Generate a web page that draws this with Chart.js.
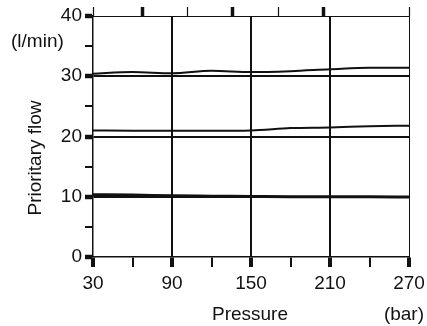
<!DOCTYPE html>
<html>
<head>
<meta charset="utf-8">
<script src="https://cdn.jsdelivr.net/npm/chart.js@4/dist/chart.umd.min.js"></script>
<style>
    html, body { margin: 0; padding: 0; background: #fff; }
    #wrap { width: 427px; height: 326px; }
</style>
</head>
<body>
<div id="wrap"><canvas id="flowChart" width="427" height="326"></canvas></div>
<script>
// Pressure (bar) sample points shared by all curves
const pressure = [30, 60, 90, 120, 150, 180, 210, 240, 270];

// Prioritary flow (l/min)
const flow30 = [30.4, 30.7, 30.5, 30.9, 30.7, 30.85, 31.15, 31.4, 31.4];
const flow20 = [21.0, 20.95, 20.95, 20.95, 21.0, 21.4, 21.5, 21.7, 21.8];
const flow10 = [10.35, 10.3, 10.15, 10.1, 10.05, 10.0, 10.0, 10.0, 9.95];

// Tick labels
const xLabels = [30, 90, 150, 210, 270];
const yLabels = [0, 10, 20, 30, 40];
const yGridLines = [10, 20, 30];
const xGridLines = [90, 150, 210];

const FONT = '"Liberation Sans", Arial, sans-serif';
const INK = '#111';

function toPoints(ys) {
    return pressure.map((p, i) => ({ x: p, y: ys[i] }));
}

function curve(ys, width) {
    return {
        data: toPoints(ys),
        borderColor: INK,
        borderWidth: width,
        pointRadius: 0,
        fill: false,
        cubicInterpolationMode: 'monotone',
        xAxisID: 'x',
        yAxisID: 'y'
    };
}

// Extra texts: units and axis titles
const textPlugin = {
    id: 'texts',
    afterDraw(chart) {
        const ctx = chart.ctx;
        ctx.save();
        ctx.fillStyle = INK;
        ctx.font = '19px ' + FONT;
        ctx.textBaseline = 'middle';
        ctx.textAlign = 'left';
        ctx.fillText('(l/min)', 11, 42);
        ctx.textAlign = 'center';
        ctx.fillText('Pressure', 250, 315);
        ctx.textAlign = 'right';
        ctx.fillText('(bar)', 424, 315);
        ctx.translate(36, 158);
        ctx.rotate(-Math.PI / 2);
        ctx.textAlign = 'center';
        ctx.fillText('Prioritary flow', 0, 0);
        ctx.restore();
    }
};

// keep the plot box where the picture has it
function fixHeight(h) {
    return (scale) => {
        scale.height = h;
        scale.paddingLeft = 0;
        scale.paddingRight = 0;
    };
}

new Chart(document.getElementById('flowChart').getContext('2d'), {
    type: 'line',
    data: {
        datasets: [curve(flow30, 2), curve(flow20, 2), curve(flow10, 3)]
    },
    options: {
        responsive: false,
        animation: false,
        layout: { padding: 0 },
        plugins: {
            legend: { display: false },
            tooltip: { enabled: false }
        },
        scales: {
            x: {
                type: 'linear',
                position: 'bottom',
                min: 30,
                max: 270,
                afterFit: fixHeight(69),
                ticks: {
                    stepSize: 30,
                    color: INK,
                    padding: 5,
                    maxRotation: 0,
                    autoSkip: false,
                    font: { family: FONT, size: 19 },
                    callback: (v) => xLabels.includes(v) ? String(v) : ''
                },
                grid: {
                    color: INK,
                    lineWidth: (c) => xGridLines.includes(c.tick && c.tick.value) ? 2 : 0,
                    tickWidth: (c) => xLabels.includes(c.tick && c.tick.value) ? 4 : 2,
                    tickColor: INK,
                    tickLength: 10,
                    drawTicks: true
                },
                border: { display: true, color: INK, width: 1.5 }
            },
            x2: {
                type: 'linear',
                position: 'top',
                display: true,
                min: -0.11,
                max: 6.91,
                afterFit: fixHeight(16),
                ticks: {
                    stepSize: 1,
                    display: false
                },
                grid: {
                    drawOnChartArea: false,
                    color: INK,
                    tickColor: INK,
                    tickWidth: (c) => (c.tick && c.tick.value % 2 === 1) ? 3.5 : 1.2,
                    tickLength: 9
                },
                border: { display: true, color: INK, width: 1 }
            },
            y: {
                type: 'linear',
                position: 'left',
                min: 0,
                max: 40,
                afterFit: (scale) => { scale.width = 93; },
                ticks: {
                    stepSize: 5,
                    color: INK,
                    padding: 3,
                    autoSkip: false,
                    font: { family: FONT, size: 19 },
                    callback: (v) => yLabels.includes(v) ? String(v) : ''
                },
                grid: {
                    color: INK,
                    lineWidth: (c) => yGridLines.includes(c.tick && c.tick.value) ? 2 : 0,
                    tickWidth: (c) => yLabels.includes(c.tick && c.tick.value) ? 4.5 : 2,
                    tickColor: INK,
                    tickLength: 8,
                    drawTicks: true
                },
                border: { display: true, color: INK, width: 1.5 }
            },
            y2: {
                type: 'linear',
                position: 'right',
                display: true,
                min: 0,
                max: 40,
                afterFit: (scale) => { scale.width = 18; },
                ticks: { display: false },
                grid: { drawOnChartArea: false, drawTicks: false },
                border: { display: true, color: INK, width: 1 }
            }
        }
    },
    plugins: [textPlugin]
});
</script>
</body>
</html>
